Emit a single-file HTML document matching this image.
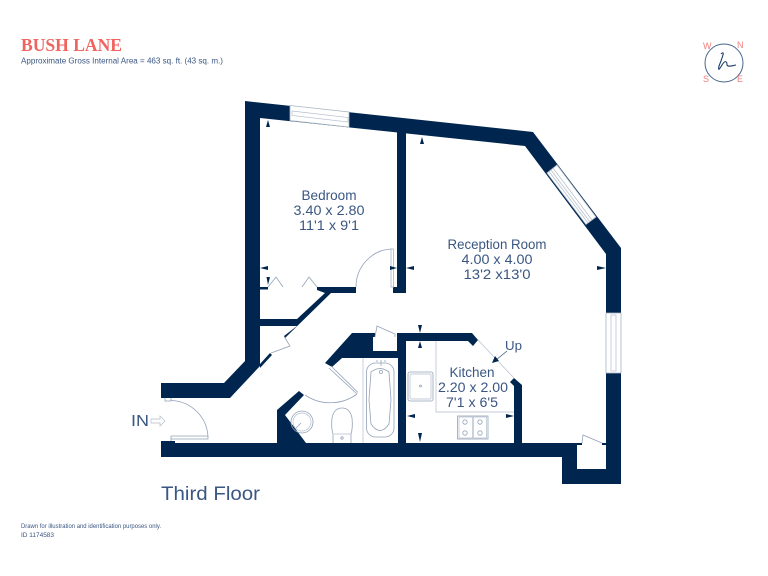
<!DOCTYPE html>
<html><head><meta charset="utf-8"><style>
html,body{margin:0;padding:0;background:#fff}
svg{display:block}
text{font-family:"Liberation Sans",sans-serif;fill:#3a5682}
.w{fill:#00264f}
.l{fill:none;stroke:#b4bfce;stroke-width:.7}
.d{fill:none;stroke:#93a2b8;stroke-width:.8}
.f{fill:#fff;stroke:#a9b5c6;stroke-width:.8}
</style></head><body>
<svg width="768" height="576" viewBox="0 0 768 576" xmlns="http://www.w3.org/2000/svg">
<rect width="768" height="576" fill="#fff"/>
<text x="21" y="51" textLength="101" lengthAdjust="spacingAndGlyphs" style="font-family:'Liberation Serif',serif;font-weight:bold;font-size:17.5px;fill:#f0635f">BUSH LANE</text>
<text x="21" y="63.500" textLength="202" lengthAdjust="spacingAndGlyphs" font-size="8">Approximate Gross Internal Area  = 463 sq. ft. (43 sq. m.)</text>

<circle cx="724" cy="63" r="19" fill="none" stroke="#4a668c" stroke-width="1"/>
<path d="M721 54 C725 50 723 56 719 66 C718 71 719 70 722 65 C725 60 727 61 727 65 C728 67 731 66 736 65" fill="none" stroke="#1c3d6b" stroke-width="1.100"/>
<text x="703" y="49" style="fill:#f0807c;font-size:9px">W</text><text x="737" y="48" style="fill:#f0807c;font-size:9px">N</text><text x="703" y="82" style="fill:#f0807c;font-size:9px">S</text><text x="737" y="82" style="fill:#f0807c;font-size:9px">E</text>

<polygon class="w" points="245,101 533,132 621,248 621,484 562,484 562,457 161,457 161,441 175,441 175,443 582,443 582,445 577,445 577,469 606,469 606,445 602,445 602,443 606,443 606,254 525,146 260,118 260,366 230,398 161,398 161,383 224,383 245,361"/>

<!-- windows -->
<polygon points="290,105.5 349,112 349,127 290,120.5" fill="#fff" stroke="#a9b5c6" stroke-width=".8"/>
<polygon class="l" points="292,111 348,117.5 348,122 292,115.5"/>
<polygon points="557,165 596,217 586,224.5 547,173" fill="#fff" stroke="#a9b5c6" stroke-width=".8"/>
<path class="l" d="M553 168 L592 220 M551 170 L590 222 M549 171.500 L588 223"/>
<rect x="606" y="313" width="15" height="60" fill="#fff" stroke="#a9b5c6" stroke-width=".8"/>
<rect x="611" y="315" width="5" height="56" class="l"/>

<!-- interior walls -->
<polygon class="w" points="397,131 406,132 406,293 393,293 393,287 397,287"/>
<rect class="w" x="260" y="287" width="8" height="2.500"/>
<polygon class="w" points="317,287 356,287 356,293 331,293 285,338 284,336 297,326 260,326 260,319 297,319 325,293 317,290"/>
<polygon class="w" points="260,364 270,353 272,355 260,368"/>
<polygon class="w" points="352,333 375,333 375,337 373,337 373,351 397,351 397,333 472,333 478,340 473,346 468,341 406,341 406,443 398,443 398,358 342,358 332,367 325,363"/>
<polygon class="w" points="514,378 522,385 522,443 514,443 514,386 510,382"/>
<polygon class="w" points="299,391 304,395 285,415 306,443 277,443 277,410"/>

<!-- doors -->
<path class="d" d="M356 287 A37 38 0 0 1 393 249"/>
<rect class="f" x="391" y="249" width="2.500" height="38"/>
<path class="d" d="M268 287 L276 277 L283 287 M302 287 L309 277 L317 287"/>
<path class="d" d="M285 338 L290 346 L271 353"/>
<path class="d" d="M171 400.500 A38 38 0 0 1 208 439 L171 439 L171 441 M165 398 L165 401 L171 401 L171 398 M171 436 L208 436 L208 439 M171 436 L171 439"/>
<path class="d" d="M357 394 A45 45 0 0 1 305 395"/>
<path class="d" d="M329 368 L357 394 M331 366 L358 392.500"/>
<path class="d" d="M375 337 L377 326 L395 334 L395 337"/>
<path class="d" d="M582 443 L583 435 L602 443"/>

<!-- IN arrow -->
<path class="l" d="M151 419 L160 419 L160 416 L165 421 L160 426 L160 423 L151 423 Z"/>
<text x="131" y="426" font-size="16" textLength="18" lengthAdjust="spacingAndGlyphs">IN</text>

<!-- bathroom -->
<path class="l" d="M363 358 L363 443"/>
<circle cx="302" cy="422" r="11" class="d"/><circle cx="302" cy="422" r="9" class="l"/>
<path class="d" d="M296 428 L301 423"/>
<path class="d" d="M333 443 L333 434 Q331 428 332 418 Q334 408 342 408 Q350 408 352 418 Q353 428 351 434 L351 443"/>
<path class="l" d="M334 434 L351 434"/><circle cx="342" cy="438" r="1.200" class="d"/>
<rect class="d" x="366.500" y="363" width="27.500" height="74" rx="9"/>
<path class="d" d="M371 372 Q380 365 389 372 L391 400 L389 424 Q380 437 371 424 L369 400 Z"/>
<circle cx="381" cy="372" r="1.500" class="d"/>
<path class="d" d="M377 362 l0 -2 M381 366 l0 -6 M385 362 l0 -2"/>

<!-- kitchen -->
<path class="l" d="M436 341 L436 412 L514 412 M478 340 L514 378"/>
<rect class="d" x="408" y="372" width="25" height="29" rx="2"/>
<rect class="l" x="410" y="374" width="21" height="25" rx="1"/>
<circle cx="420.500" cy="386" r="1" class="d"/>
<rect class="d" x="457.500" y="416" width="30.500" height="23"/>
<rect class="l" x="459" y="417" width="13.500" height="21"/><rect class="l" x="473.500" y="417" width="13" height="21"/>
<circle cx="465" cy="422" r="2.200" class="d"/><circle cx="480" cy="422" r="2.200" class="d"/>
<circle cx="465" cy="433" r="2.200" class="d"/><circle cx="480" cy="433" r="2.200" class="d"/>
<path d="M507 351 L496 360" stroke="#3a5682" stroke-width=".8"/>
<polygon class="w" points="492,363 495,356 499,361"/>
<text x="505" y="350" font-size="13" textLength="17" lengthAdjust="spacingAndGlyphs">Up</text>

<!-- dimension arrows -->
<g class="w">
<polygon points="268,120 266,127 270,127"/>
<polygon points="422,137 420,144 424,144"/>
<polygon points="597,266 597,270 606,268"/>
<polygon points="260,268 268,266 268,270"/>
<polygon points="266.500,277 270,277 268,285"/>
<polygon points="397,268 390,266 390,270"/>
<polygon points="406,268 414,266 414,270"/>
<polygon points="420,333 418,325 422,325"/>
<polygon points="420,341 418,348 422,348"/>
<polygon points="407,416 415,414 415,418"/>
<polygon points="514,416 506,414 506,418"/>
<polygon points="420,442 418,433 422,433"/>
</g>

<!-- labels -->
<g font-size="13.500" text-anchor="middle">
<text x="329" y="200" textLength="55" lengthAdjust="spacingAndGlyphs">Bedroom</text>
<text x="329" y="215" textLength="71" lengthAdjust="spacingAndGlyphs">3.40 x 2.80</text>
<text x="329" y="230" textLength="60" lengthAdjust="spacingAndGlyphs">11'1 x 9'1</text>
<text x="497" y="249" textLength="99" lengthAdjust="spacingAndGlyphs">Reception Room</text>
<text x="497" y="264" textLength="71" lengthAdjust="spacingAndGlyphs">4.00 x 4.00</text>
<text x="497" y="279" textLength="67" lengthAdjust="spacingAndGlyphs">13'2 x13'0</text>
<text x="472" y="377" textLength="45" lengthAdjust="spacingAndGlyphs">Kitchen</text>
<text x="473" y="392" textLength="70" lengthAdjust="spacingAndGlyphs">2.20 x 2.00</text>
<text x="472" y="407" textLength="52" lengthAdjust="spacingAndGlyphs">7'1 x 6'5</text>
</g>
<text x="161" y="500" font-size="19" textLength="99" lengthAdjust="spacingAndGlyphs">Third Floor</text>
<text x="21" y="528" font-size="6" textLength="140" lengthAdjust="spacingAndGlyphs">Drawn for illustration and identification purposes only.</text>
<text x="21" y="537" font-size="6.500" textLength="33" lengthAdjust="spacingAndGlyphs">ID 1174583</text>
</svg>
</body></html>
